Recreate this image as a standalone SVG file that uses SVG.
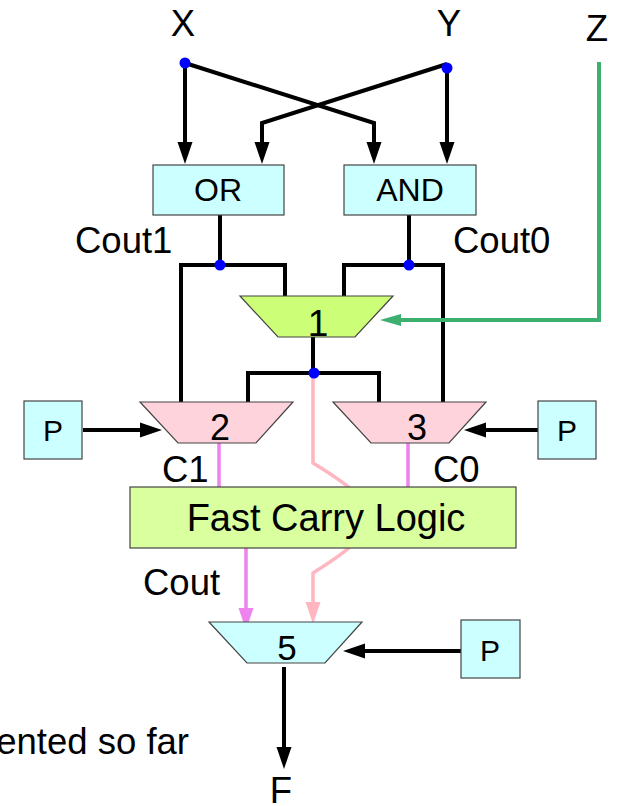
<svg xmlns="http://www.w3.org/2000/svg" width="617" height="806" viewBox="0 0 617 806">
<style>
text{font-family:"Liberation Sans",Arial,sans-serif;fill:#000}
.lbl{font-size:36.5px}
.node{stroke:#444;stroke-width:1.2}
.box{fill:#ccffff}
.w{fill:none;stroke:#000;stroke-width:4}
.dot{fill:#0000ff}
</style>
<defs>
<marker id="ab" viewBox="0 -8 22 16" refX="1" refY="0" markerWidth="22" markerHeight="16" markerUnits="userSpaceOnUse" orient="auto"><path d="M0,-7.5 L22,0 L0,7.5 Z" fill="#000"/></marker>
<marker id="ag" viewBox="0 -7 21 14" refX="1" refY="0" markerWidth="21" markerHeight="14" markerUnits="userSpaceOnUse" orient="auto"><path d="M0,-6 L21,0 L0,6 Z" fill="#3daf6e"/></marker>
<marker id="av" viewBox="0 -8 22 16" refX="1" refY="0" markerWidth="22" markerHeight="16" markerUnits="userSpaceOnUse" orient="auto"><path d="M0,-7.5 L22,0 L0,7.5 Z" fill="#ee82ee"/></marker>
<marker id="ap" viewBox="0 -8 22 16" refX="1" refY="0" markerWidth="22" markerHeight="16" markerUnits="userSpaceOnUse" orient="auto"><path d="M0,-7.5 L22,0 L0,7.5 Z" fill="#ffb6c1"/></marker>
</defs>
<rect width="617" height="806" fill="#fff"/>

<g id="labels">
<text class="lbl" x="183" y="36" text-anchor="middle">X</text>
<text class="lbl" x="449" y="36" text-anchor="middle">Y</text>
<text class="lbl" x="597" y="41" text-anchor="middle">Z</text>
<text class="lbl" x="75" y="253">Cout1</text>
<text class="lbl" x="453" y="253">Cout0</text>
<text class="lbl" x="162" y="482">C1</text>
<text class="lbl" x="433" y="482">C0</text>
<text class="lbl" x="143" y="595">Cout</text>
<text class="lbl" x="189" y="754" text-anchor="end">ented so far</text>
<text class="lbl" x="281" y="803" text-anchor="middle">F</text>
</g>

<g id="connectors">
<path class="w" d="M185,63 V143" marker-end="url(#ab)"/>
<path class="w" d="M185,63 L374,123 V143" marker-end="url(#ab)"/>
<path class="w" d="M447,64 L262,123 V143" marker-end="url(#ab)"/>
<path class="w" d="M447,64 V143" marker-end="url(#ab)"/>
<path class="w" d="M220,215 V265"/>
<path class="w" d="M181,403 V265 H285 V299"/>
<path class="w" d="M409,215 V265"/>
<path class="w" d="M344,299 V265 H443 V403"/>
<path class="w" d="M313,337 V373"/>
<path class="w" d="M248,407 V373 H379 V407"/>
<path d="M599,62 V320 H400" fill="none" stroke="#3daf6e" stroke-width="4" marker-end="url(#ag)"/>
<path class="w" d="M83,430 H141" marker-end="url(#ab)"/>
<path class="w" d="M538,430 H485" marker-end="url(#ab)"/>
<path class="w" d="M461,651 H364" marker-end="url(#ab)"/>
<path class="w" d="M284,667 V748" marker-end="url(#ab)"/>
<path d="M219,443 V487 M408,443 V487" fill="none" stroke="#ee82ee" stroke-width="3.5"/>
<path d="M246,548 V609" fill="none" stroke="#ee82ee" stroke-width="3.5" marker-end="url(#av)"/>
<path d="M313,373 V463 C340,480 366,495 366,517 C366,540 340,556 313,573 V603" fill="none" stroke="#ffb6c1" stroke-width="3.5" marker-end="url(#ap)"/>
<circle class="dot" cx="185" cy="63" r="5.5"/>
<circle class="dot" cx="447" cy="68" r="5.5"/>
<circle class="dot" cx="220" cy="265" r="5.5"/>
<circle class="dot" cx="409" cy="265" r="5.5"/>
<circle class="dot" cx="314" cy="373" r="5.5"/>
</g>

<g id="or">
<rect class="node box" x="153" y="165" width="131" height="50"/>
<text x="218" y="201" font-size="32" text-anchor="middle">OR</text>
</g>
<g id="and">
<rect class="node box" x="344" y="165" width="132" height="50"/>
<text x="410" y="201" font-size="32" text-anchor="middle">AND</text>
</g>
<g id="mux1">
<polygon class="node" points="240,296 393,296 355,337 278,337" fill="#ccff77"/>
<text x="318" y="336" font-size="37" text-anchor="middle">1</text>
</g>
<g id="mux2">
<polygon class="node" points="140,402 293,402 256,443 178,443" fill="#ffd3dc"/>
<text x="220" y="440" font-size="36" text-anchor="middle">2</text>
</g>
<g id="mux3">
<polygon class="node" points="333,402 486,402 449,443 371,443" fill="#ffd3dc"/>
<text x="417" y="440" font-size="36" text-anchor="middle">3</text>
</g>
<g id="p-left">
<rect class="node box" x="24" y="401" width="58" height="58"/>
<text x="53" y="441" font-size="30" text-anchor="middle">P</text>
</g>
<g id="p-right">
<rect class="node box" x="538" y="401" width="58" height="58"/>
<text x="567" y="441" font-size="30" text-anchor="middle">P</text>
</g>
<g id="fcl">
<rect class="node" x="130" y="487" width="386" height="61" fill="#d9ff9f"/>
<text x="326" y="531" font-size="38" text-anchor="middle">Fast Carry Logic</text>
</g>
<g id="mux5">
<polygon class="node" points="209,622 362,622 325,663 247,663" fill="#ccffff"/>
<text x="287" y="660" font-size="35" text-anchor="middle">5</text>
</g>
<g id="p-bottom">
<rect class="node box" x="461" y="620" width="59" height="58"/>
<text x="490" y="661" font-size="30" text-anchor="middle">P</text>
</g>
</svg>
